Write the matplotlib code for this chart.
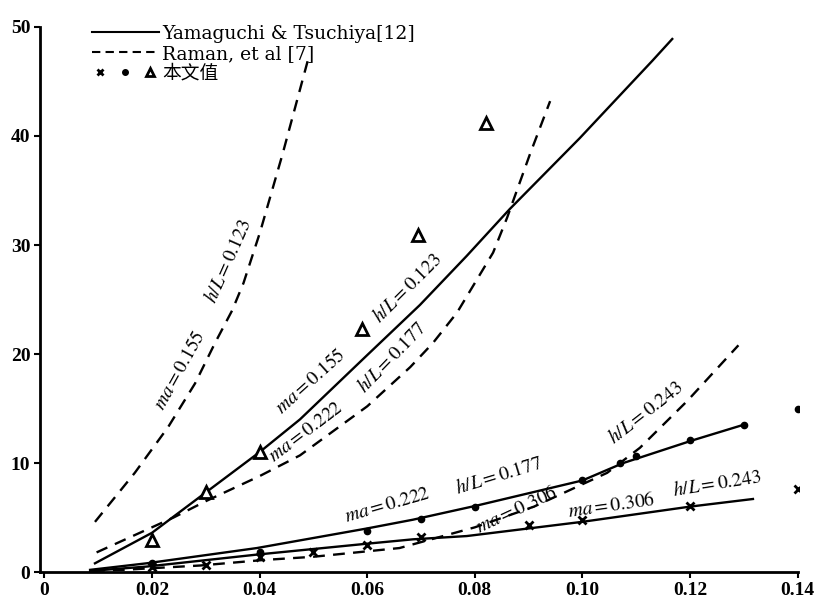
import numpy as np
import matplotlib
matplotlib.use('Agg')
import matplotlib.pyplot as plt
from matplotlib.lines import Line2D
from matplotlib.legend_handler import HandlerTuple

plt.rcParams['mathtext.fontset'] = 'stix'

# Yamaguchi & Tsuchiya (solid)
yt1_x = [0.0094, 0.02, 0.03, 0.04, 0.0475, 0.06, 0.0698, 0.0785, 0.0865, 0.0995, 0.1033, 0.113, 0.1167]
yt1_y = [0.8, 3.6, 7.3, 11.0, 14.0, 19.9, 24.5, 29.0, 33.3, 39.8, 41.8, 46.9, 48.9]
yt2_x = [0.0085, 0.019, 0.0395, 0.06, 0.0685, 0.0804, 0.100, 0.1076, 0.1206, 0.1299]
yt2_y = [0.2, 0.8, 2.2, 4.0, 4.8, 6.1, 8.4, 10.0, 12.1, 13.5]
yt3_x = [0.0085, 0.019, 0.0395, 0.06, 0.0685, 0.0785, 0.0999, 0.12, 0.1317]
yt3_y = [0.1, 0.5, 1.6, 2.6, 3.0, 3.3, 4.6, 6.0, 6.7]

# Raman et al (dashed)
rm1_x = [0.0094, 0.0168, 0.023, 0.028, 0.0317, 0.0349, 0.037, 0.0401, 0.0443, 0.049]
rm1_y = [4.6, 9.1, 13.3, 17.3, 21.0, 24.0, 26.5, 31.2, 38.4, 47.0]
rm2_x = [0.0097, 0.024, 0.030, 0.04, 0.0475, 0.06, 0.068, 0.0722, 0.0767, 0.0834, 0.086, 0.0903, 0.094]
rm2_y = [1.8, 5.0, 6.5, 8.8, 10.7, 15.2, 18.8, 21.0, 23.8, 29.3, 32.5, 38.4, 43.2]
rm3_x = [0.009, 0.0146, 0.029, 0.0406, 0.050, 0.066, 0.080, 0.091, 0.1046, 0.1107, 0.1195, 0.129]
rm3_y = [0.1, 0.2, 0.6, 1.1, 1.4, 2.2, 4.1, 6.0, 9.1, 11.4, 15.7, 20.8]

# measured values (本文值)
tri_x = [0.02, 0.03, 0.04, 0.059, 0.0694, 0.082]
tri_y = [2.9, 7.3, 11.0, 22.3, 30.9, 41.2]
dot_x = [0.02, 0.04, 0.06, 0.07, 0.08, 0.10, 0.107, 0.11, 0.12, 0.13, 0.14]
dot_y = [0.8, 1.8, 3.8, 4.9, 6.0, 8.4, 10.0, 10.6, 12.1, 13.5, 15.0]
crs_x = [0.02, 0.03, 0.04, 0.05, 0.06, 0.07, 0.09, 0.10, 0.12, 0.14]
crs_y = [0.5, 0.6, 1.4, 1.8, 2.5, 3.2, 4.3, 4.8, 6.1, 7.6]

xticks = [0, 0.02, 0.04, 0.06, 0.08, 0.10, 0.12, 0.14]
xlabels = ['0', '0.02', '0.04', '0.06', '0.08', '0.10', '0.12', '0.14']
yticks = [0, 10, 20, 30, 40, 50]

# curve labels: text, x, y, angle, offset from the curve (points)
labels = [
    (r'$ma=0.155$', 0.0263, 18.2, 61, 5),
    (r'$h/L=0.123$', 0.0354, 28.3, 66, 5),
    (r'$ma=0.155$', 0.0505, 16.9, 42, 6),
    (r'$h/L=0.123$', 0.0683, 25.6, 45, 5),
    (r'$ma=0.222$', 0.0494, 12.4, 37, 5),
    (r'$h/L=0.177$', 0.0655, 19.2, 46, 5),
    (r'$ma=0.222$', 0.064, 5.8, 16, 3),
    (r'$h/L=0.177$', 0.0847, 8.5, 17, 3),
    (r'$ma=0.306$', 0.0878, 5.7, 25, 0),
    (r'$ma=0.306$', 0.1055, 6.1, 8, 0),
    (r'$h/L=0.243$', 0.1126, 14.1, 38, 5),
    (r'$h/L=0.243$', 0.125, 8.0, 9, 1),
]

fig = plt.figure(figsize=(8.2, 6.05), dpi=100)
ax = fig.add_axes([0.0489, 0.0545, 0.9251, 0.9045])

lw = 1.7
dash = (0, (5, 3.5))
ax.plot(yt1_x, yt1_y, color='black', lw=lw)
ax.plot(yt2_x, yt2_y, color='black', lw=lw)
ax.plot(yt3_x, yt3_y, color='black', lw=lw)
ax.plot(rm1_x, rm1_y, color='black', lw=lw, linestyle=dash)
ax.plot(rm2_x, rm2_y, color='black', lw=lw, linestyle=dash)
ax.plot(rm3_x, rm3_y, color='black', lw=lw, linestyle=dash)

ax.plot(tri_x, tri_y, '^', ms=8, mfc='white', mec='black', mew=2, linestyle='none')
ax.plot(dot_x, dot_y, 'o', ms=4.5, color='black', linestyle='none')
ax.plot(crs_x, crs_y, 'x', ms=5.5, color='black', mew=2, linestyle='none')

for t, x, y, a, d in labels:
    r = np.radians(a)
    ax.annotate(t, (x, y), xytext=(-d * np.sin(r), d * np.cos(r)),
                textcoords='offset points', rotation=a, fontsize=14,
                ha='center', va='center', rotation_mode='anchor')

ax.set_xlim(-0.0008, 0.1402)
ax.set_ylim(0, 50.2)
ax.set_xticks(xticks)
ax.set_xticklabels(xlabels)
ax.set_yticks(yticks)
for lab in ax.get_xticklabels() + ax.get_yticklabels():
    lab.set_fontfamily('Liberation Serif')
    lab.set_fontweight('bold')
    lab.set_fontsize(14)
ax.tick_params(direction='out', length=4, width=1.5, pad=3)
ax.spines['top'].set_visible(False)
ax.spines['right'].set_visible(False)
ax.spines['left'].set_linewidth(2)
ax.spines['bottom'].set_linewidth(2)
ax.spines['left'].set_bounds(0, 50)
ax.spines['bottom'].set_bounds(-0.0008, 0.14)

h1 = Line2D([], [], color='black', lw=1.5)
h2 = Line2D([], [], color='black', lw=1.5, linestyle=(0, (4, 2.5)))
m1 = Line2D([], [], marker='x', color='black', ms=5, mew=2, linestyle='none')
m2 = Line2D([], [], marker='o', color='black', ms=4, linestyle='none')
m3 = Line2D([], [], marker='^', mfc='white', mec='black', mew=2, ms=6, linestyle='none')
leg = ax.legend([h1, h2, (m1, m2, m3)],
                ['Yamaguchi & Tsuchiya[12]', 'Raman, et al [7]', '本文值'],
                handler_map={tuple: HandlerTuple(ndivide=None, pad=0.4)},
                loc='upper left', bbox_to_anchor=(0.068, 1.0), frameon=False,
                borderaxespad=0, borderpad=0, handlelength=3.6, handletextpad=0.15,
                labelspacing=0.1,
                prop={'family': ['DejaVu Serif', 'Noto Sans CJK SC'], 'size': 13.5})

fig.savefig('out.png', dpi=100, facecolor='white')
